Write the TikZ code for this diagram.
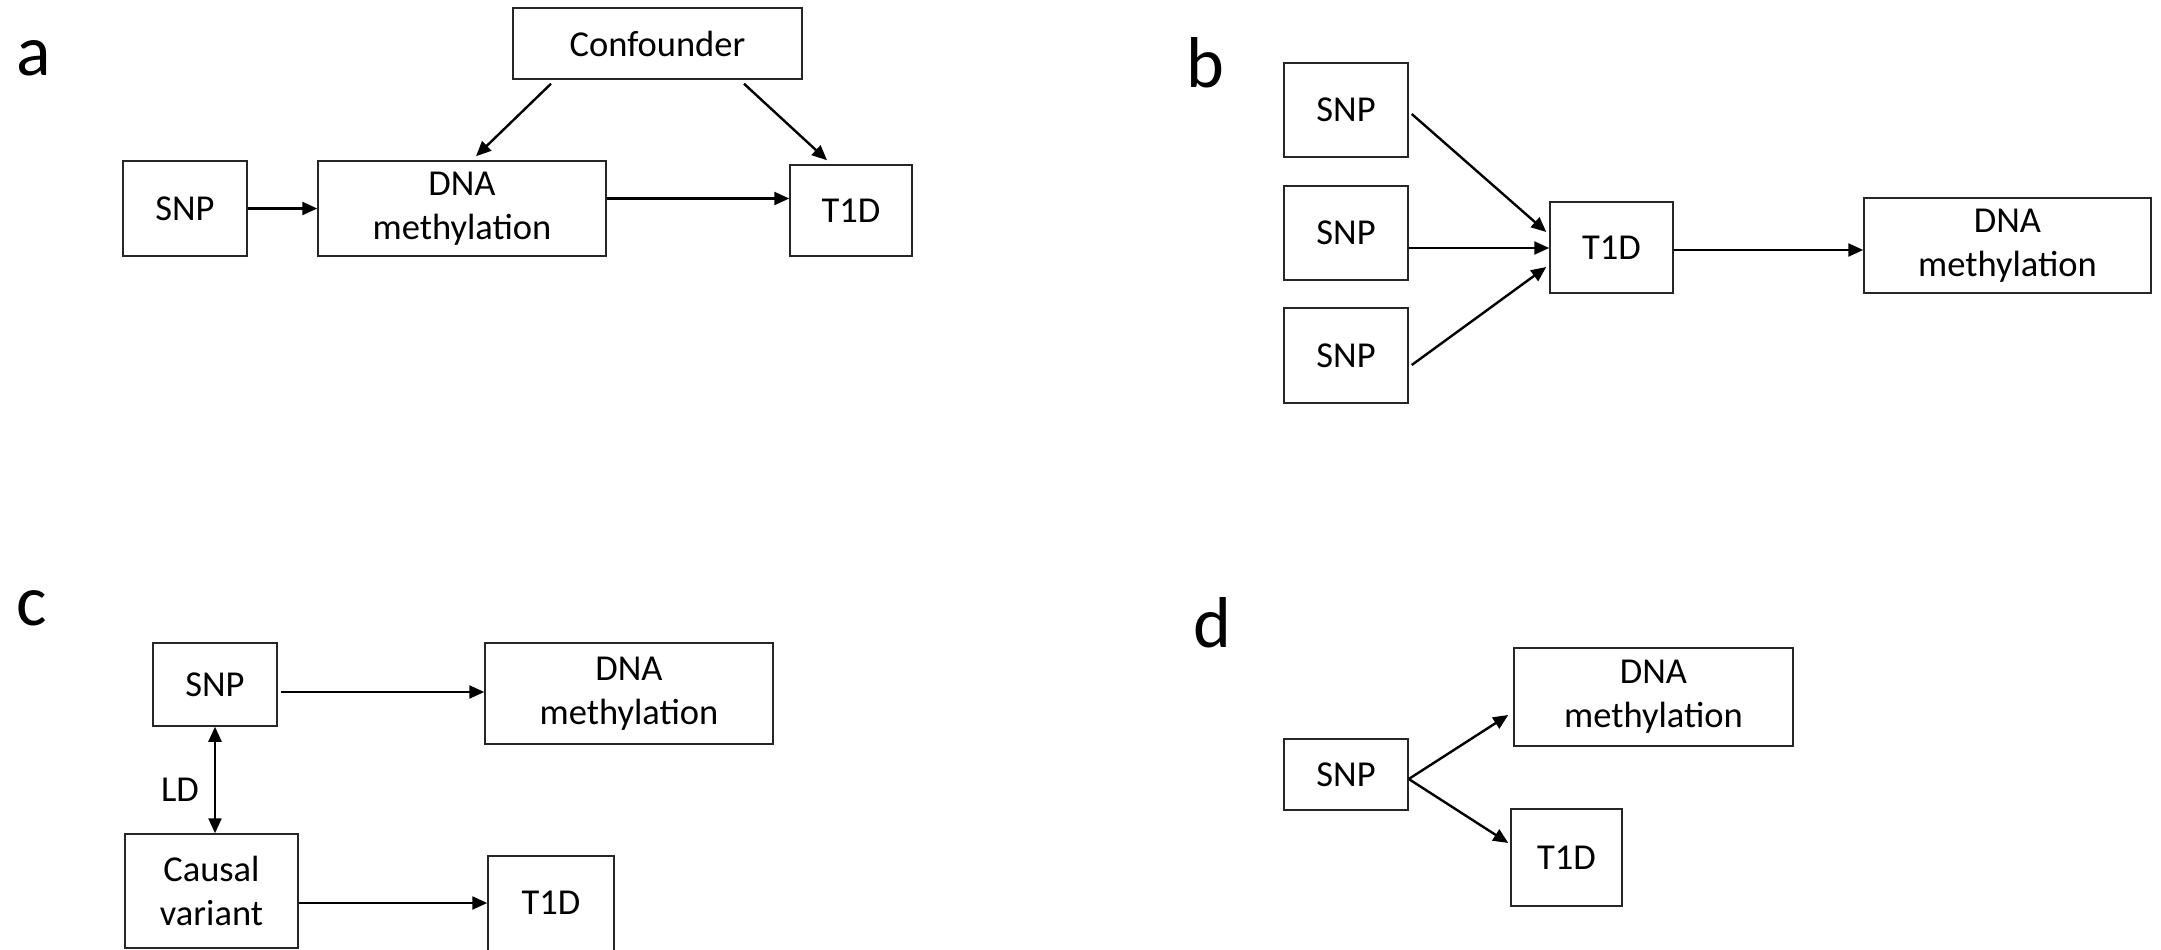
\documentclass[tikz,border=0pt]{standalone}
\usepackage{fontspec}
\setmainfont{Carlito}
\usetikzlibrary{arrows.meta,calc}
\begin{document}
\begin{tikzpicture}[x=1pt,y=-1pt,
  box/.style={draw=black!85,line width=1.5pt,inner sep=0pt,align=center,
    font=\fontsize{36.5}{44}\selectfont},
  conn/.style={line width=2.4pt,-{Triangle[length=15pt,width=13pt]}},
  dconn/.style={line width=2.4pt,{Triangle[length=15pt,width=13pt]}-{Triangle[length=15pt,width=13pt]}},
  panellabel/.style={anchor=base west,inner sep=0pt,font=\fontsize{72}{72}\selectfont},
  txt/.style={inner sep=0pt,font=\fontsize{36.5}{44}\selectfont}]
\useasboundingbox (0,0) rectangle (2161,950);
\clip (0,0) rectangle (2161,950);
\fill[white] (0,0) rectangle (2161,950);

% ---------- panel a ----------
\node[panellabel] (la) at (16,75) {a};
\node[box,minimum width=289pt,minimum height=71pt] (conf) at (657.5,43.5) {Confounder};
\node[box,minimum width=124pt,minimum height=95pt] (snpA) at (185,208.5) {SNP};
\node[box,minimum width=288pt,minimum height=95pt] (dnaA) at (462,208.5) {DNA\\methylation};
\node[box,minimum width=122pt,minimum height=91pt] (t1dA) at (851,210.5) {T1D};
\draw[conn] (snpA.east) -- (dnaA.west);
\draw[conn] ([yshift=10pt]dnaA.east) -- ([yshift=10pt]dnaA.east -| t1dA.west);
\draw[conn] ([xshift=-106.5pt,yshift=-4pt]conf.south) -- ([xshift=14pt,yshift=4pt]dnaA.north);
\draw[conn] ([xshift=86.5pt,yshift=-4pt]conf.south) -- ([xshift=-24pt,yshift=4pt]t1dA.north);

% ---------- panel b ----------
\node[panellabel] (lb) at (1186,88) {b};
\node[box,minimum width=124pt,minimum height=94pt] (snpB1) at (1346,110) {SNP};
\node[box,minimum width=124pt,minimum height=94pt] (snpB2) at (1346,233) {SNP};
\node[box,minimum width=124pt,minimum height=95pt] (snpB3) at (1346,355.5) {SNP};
\node[box,minimum width=123pt,minimum height=91pt] (t1dB) at (1611.5,247.5) {T1D};
\node[box,minimum width=287pt,minimum height=95pt] (dnaB) at (2007.5,245.5) {DNA\\methylation};
\draw[conn] ([xshift=3pt,yshift=-4pt]snpB1.east) -- ([xshift=-3pt,yshift=15.5pt]t1dB.west);
\draw[conn] ([yshift=-15pt]snpB2.east) -- ([yshift=-15pt]snpB2.east -| t1dB.west);
\draw[conn] ([xshift=3pt,yshift=-9.5pt]snpB3.east) -- ([xshift=-3pt,yshift=-19.5pt]t1dB.west);
\draw[conn] ([yshift=-2.5pt]t1dB.east) -- ([yshift=-2.5pt]t1dB.east -| dnaB.west);

% ---------- panel c ----------
\node[panellabel] (lc) at (16,625) {c};
\node[box,minimum width=124pt,minimum height=83pt] (snpC) at (215,684.5) {SNP};
\node[box,minimum width=288pt,minimum height=101pt] (dnaC) at (629,693.5) {DNA\\methylation};
\node[box,minimum width=173pt,minimum height=114pt] (cvC) at (211.5,891) {Causal\\variant};
\node[box,minimum width=126pt,minimum height=120pt] (t1dC) at (551,916) {};
\node[txt] (t1dCt) at (551,903) {T1D};
\node[txt] (ld) at (180,790) {LD};
\draw[conn] ([xshift=3pt,yshift=-7.5pt]snpC.east) -- ([yshift=-7.5pt]snpC.east -| dnaC.west);
\draw[dconn] (snpC.south) -- (snpC.south |- cvC.north);
\draw[conn] ([yshift=-12pt]cvC.east) -- ([yshift=-12pt]cvC.east -| t1dC.west);

% ---------- panel d ----------
\node[panellabel] (ld2) at (1193,647) {d};
\node[box,minimum width=124pt,minimum height=71pt] (snpD) at (1346,774.5) {SNP};
\node[box,minimum width=279pt,minimum height=98pt] (dnaD) at (1653.5,697) {DNA\\methylation};
\node[box,minimum width=111pt,minimum height=97pt] (t1dD) at (1566.5,857.5) {T1D};
\draw[conn] ([yshift=-4.5pt]snpD.east) -- ([xshift=-5pt,yshift=-18pt]dnaD.west);
\draw[conn] ([yshift=-4.5pt]snpD.east) -- ([xshift=-2pt,yshift=14.5pt]t1dD.west);
\end{tikzpicture}
\end{document}
